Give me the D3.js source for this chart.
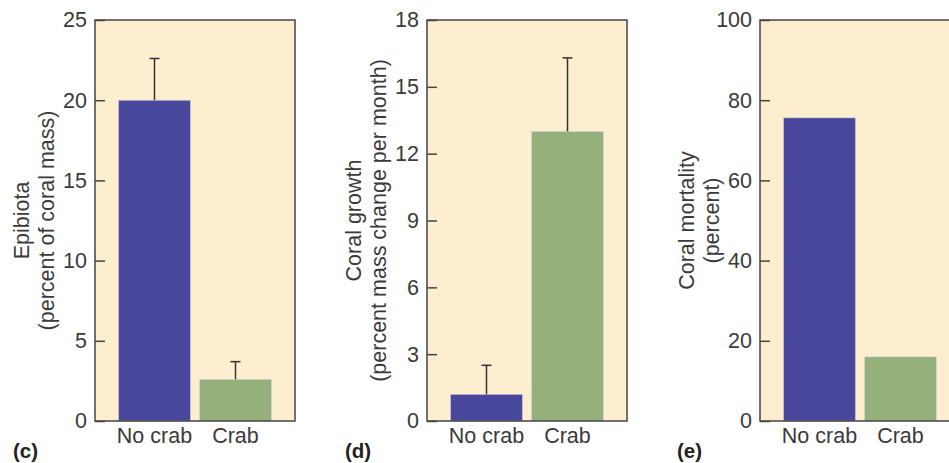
<!DOCTYPE html>
<html>
<head>
<meta charset="utf-8">
<script src="https://cdn.jsdelivr.net/npm/d3@7"></script>
<style>
  body { margin: 0; background: #fff; }
  text { font-family: "Liberation Sans", Arial, sans-serif; }
</style>
</head>
<body>
<svg id="chart"></svg>
<script>
// Data dari gambar
const categories = ["No crab", "Crab"];
const epibiota = [20, 2.6];
const epibiotaErr = [2.6, 1.1];
const growth = [1.2, 13];
const growthErr = [1.3, 3.3];
const mortality = [75.6, 16];
const epibiotaTicks = [0, 5, 10, 15, 20, 25];
const growthTicks = [0, 3, 6, 9, 12, 15, 18];
const mortalityTicks = [0, 20, 40, 60, 80, 100];

const width = 949, height = 463;
const svg = d3.select("#chart")
    .attr("width", width)
    .attr("height", height);

const colors = ["#49479b", "#96b07b"];
const plotTop = 20, plotBottom = 421, panelW = 200;
const fontSize = "21.5px", textColor = "#3a3a3a";

const panels = [
    { left: 95, values: epibiota, err: epibiotaErr, ticks: epibiotaTicks,
      label: ["Epibiota", "(percent of coral mass)"], tag: "(c)", tagX: 13 },
    { left: 427, values: growth, err: growthErr, ticks: growthTicks,
      label: ["Coral growth", "(percent mass change per month)"], tag: "(d)", tagX: 345 },
    { left: 760, values: mortality, err: null, ticks: mortalityTicks,
      label: ["Coral mortality", "(percent)"], tag: "(e)", tagX: 677 }
];

panels.forEach(p => {
    const g = svg.append("g").attr("transform", `translate(${p.left},0)`);

    const x = d3.scaleBand()
        .domain(categories)
        .range([0, panelW])
        .paddingInner(0.111)
        .paddingOuter(0.29);

    const y = d3.scaleLinear()
        .domain([0, d3.max(p.ticks)])
        .range([plotBottom, plotTop]);

    // Latar belakang
    g.append("rect")
        .attr("x", 0).attr("y", plotTop)
        .attr("width", panelW).attr("height", plotBottom - plotTop)
        .attr("fill", "#feeed0");

    // Batang
    g.selectAll(".bar")
        .data(p.values)
        .enter()
        .append("rect")
        .attr("x", (d, i) => x(categories[i]))
        .attr("y", d => y(d))
        .attr("width", x.bandwidth())
        .attr("height", d => plotBottom - y(d))
        .attr("fill", (d, i) => colors[i])
        .attr("stroke", "#d8d6e6")
        .attr("stroke-width", 0.6);

    // Error bar (atas saja)
    if (p.err) {
        p.values.forEach((v, i) => {
            const cx = x(categories[i]) + x.bandwidth() / 2;
            const yt = y(v + p.err[i]);
            g.append("line")
                .attr("x1", cx).attr("x2", cx)
                .attr("y1", y(v)).attr("y2", yt)
                .attr("stroke", "#333").attr("stroke-width", 1.5);
            g.append("line")
                .attr("x1", cx - 5).attr("x2", cx + 5)
                .attr("y1", yt).attr("y2", yt)
                .attr("stroke", "#333").attr("stroke-width", 1.5);
        });
    }

    // Sumbu Y dengan tick ke dalam
    const axis = g.append("g")
        .call(d3.axisLeft(y).tickValues(p.ticks).tickSizeInner(-10).tickSizeOuter(0).tickPadding(8));
    axis.select(".domain").remove();
    axis.selectAll(".tick line").attr("stroke", "#444").attr("stroke-width", 1.5);
    axis.selectAll(".tick text")
        .attr("font-size", fontSize)
        .attr("fill", textColor)
        .style("font-family", "'Liberation Sans', Arial, sans-serif");

    // Bingkai
    g.append("rect")
        .attr("x", 0).attr("y", plotTop)
        .attr("width", panelW).attr("height", plotBottom - plotTop)
        .attr("fill", "none")
        .attr("stroke", "#444")
        .attr("stroke-width", 1.5);

    // Label kategori
    g.selectAll(".cat")
        .data(categories)
        .enter()
        .append("text")
        .attr("x", d => x(d) + x.bandwidth() / 2)
        .attr("y", 443)
        .attr("text-anchor", "middle")
        .attr("font-size", fontSize)
        .attr("fill", textColor)
        .text(d => d);

    // Label sumbu Y (dua baris)
    const midY = (plotTop + plotBottom) / 2;
    p.label.forEach((t, i) => {
        const lx = -66 + i * 25;
        g.append("text")
            .attr("transform", `translate(${lx},${midY}) rotate(-90)`)
            .attr("text-anchor", "middle")
            .attr("font-size", fontSize)
            .attr("fill", textColor)
            .text(t);
    });

    // Tag panel
    svg.append("text")
        .attr("x", p.tagX)
        .attr("y", 458)
        .attr("font-size", "20.5px")
        .attr("font-weight", "bold")
        .attr("fill", "#222")
        .text(p.tag);
});
</script>
</body>
</html>
